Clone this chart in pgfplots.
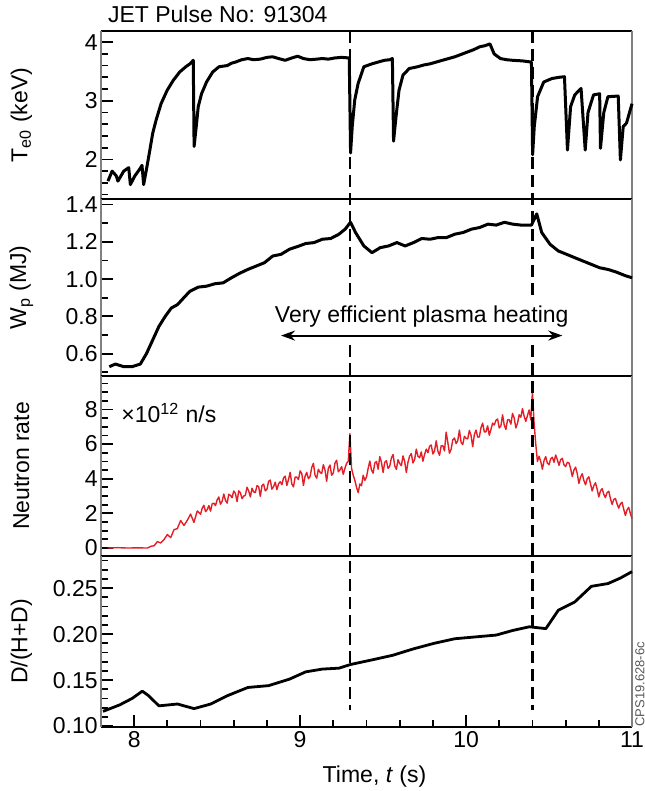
\documentclass[border=0pt]{standalone}
\usepackage{pgfplots}
\pgfplotsset{compat=1.18}
\usepackage{fontspec}
\setmainfont{Liberation Sans}
\usetikzlibrary{arrows.meta}
\definecolor{nred}{RGB}{228,30,38}
\newcommand{\lf}{\fontsize{11.5}{13}\selectfont}
\pgfplotsset{
 panel/.style={
  scale only axis, width=265.5pt,
  xmin=7.8, xmax=11,
  separate axis lines,
  x axis line style={black, line width=1.4pt},
  y axis line style={black!50, line width=0.8pt},
  tick align=inside, ytick pos=left, xtick pos=bottom,
  major tick length=6pt, minor tick length=3.5pt,
  tick style={black, line width=0.9pt},
  /pgf/number format/assume math mode=true,
  tick label style={font=\lf},
  label style={font=\lf},
  ylabel style={at={(axis description cs:-0.15,0.5)}, anchor=center},
  yticklabel style={inner xsep=1.5pt},
  clip=false,
 }
}
\begin{document}
\begin{tikzpicture}
\path[use as bounding box] (-50.5pt,-32pt) rectangle (271.7pt,363.5pt);
% Panel 1
\begin{axis}[panel, at={(0,264pt)}, anchor=south west, height=84pt,
  ymin=1.325, ymax=4.19, ytick={2,3,4},
  minor ytick={1.4,1.6,1.8,2.2,2.4,2.6,2.8,3.2,3.4,3.6,3.8},
  xtick=\empty, ylabel={T\textsubscript{e0} (keV)}]
\addplot[black, line width=1.5pt, line join=round] coordinates {
(7.842,1.63)(7.867,1.80)(7.892,1.72)(7.902,1.63)(7.937,1.80)(7.967,1.86)(7.977,1.57)(8.002,1.71)(8.037,1.85)(8.047,1.90)(8.057,1.57)(8.074,1.83)(8.092,2.12)(8.112,2.45)(8.132,2.67)(8.162,2.95)(8.199,3.18)(8.236,3.35)(8.274,3.49)(8.311,3.58)(8.336,3.63)(8.356,3.69)(8.361,2.22)(8.374,2.56)(8.386,2.90)(8.406,3.12)(8.436,3.32)(8.473,3.49)(8.511,3.58)(8.536,3.59)(8.561,3.60)(8.586,3.64)(8.611,3.66)(8.648,3.70)(8.685,3.72)(8.72,3.70)(8.760,3.71)(8.80,3.74)(8.835,3.75)(8.87,3.72)(8.910,3.69)(8.95,3.73)(8.985,3.76)(9.02,3.72)(9.059,3.70)(9.10,3.71)(9.134,3.72)(9.17,3.71)(9.209,3.73)(9.25,3.74)(9.296,3.73)(9.304,2.11)(9.314,2.56)(9.329,3.01)(9.349,3.29)(9.384,3.58)(9.433,3.63)(9.47,3.66)(9.508,3.69)(9.54,3.70)(9.556,3.72)(9.563,2.31)(9.578,2.73)(9.596,3.18)(9.620,3.44)(9.658,3.55)(9.708,3.58)(9.745,3.61)(9.783,3.63)(9.82,3.66)(9.857,3.69)(9.895,3.72)(9.932,3.75)(9.97,3.79)(10.007,3.83)(10.045,3.87)(10.082,3.92)(10.115,3.94)(10.144,3.97)(10.169,3.80)(10.207,3.72)(10.245,3.70)(10.281,3.69)(10.34,3.68)(10.394,3.66)(10.401,2.08)(10.411,2.56)(10.431,3.07)(10.468,3.32)(10.518,3.38)(10.56,3.40)(10.593,3.41)(10.611,2.16)(10.630,2.90)(10.655,3.10)(10.693,3.21)(10.718,2.16)(10.735,2.80)(10.768,3.10)(10.805,3.12)(10.810,2.19)(10.830,2.80)(10.855,3.07)(10.917,3.08)(10.930,1.99)(10.947,2.56)(10.967,2.62)(11.0,2.95)};
\node[anchor=base west, font=\lf, yshift=4.2pt] at (rel axis cs:0,1) {JET Pulse No: 91304};
\coordinate (d1top) at (axis cs:9.3,4.19);
\coordinate (d2top) at (axis cs:10.4,4.19);
\end{axis}
% Panel 2
\begin{axis}[panel, at={(0,175.5pt)}, anchor=south west, height=88.5pt,
  ymin=0.48, ymax=1.43, ytick={0.6,0.8,1.0,1.2,1.4},
  minor ytick={0.5,0.7,0.9,1.1,1.3},
  yticklabel style={/pgf/number format/.cd, fixed, fixed zerofill, precision=1},
  xtick=\empty, ylabel={W\textsubscript{p} (MJ)}]
\addplot[black, line width=1.5pt, line join=round] coordinates {
(7.850,0.53)(7.887,0.544)(7.937,0.53)(7.987,0.53)(8.037,0.544)(8.074,0.60)(8.112,0.674)(8.149,0.746)(8.187,0.80)(8.224,0.845)(8.261,0.863)(8.299,0.90)(8.336,0.935)(8.386,0.957)(8.436,0.962)(8.486,0.975)(8.536,0.98)(8.586,1.007)(8.635,1.031)(8.685,1.052)(8.735,1.07)(8.785,1.088)(8.835,1.124)(8.885,1.133)(8.935,1.16)(8.985,1.175)(9.034,1.191)(9.084,1.196)(9.134,1.214)(9.184,1.218)(9.234,1.241)(9.271,1.268)(9.304,1.305)(9.334,1.25)(9.384,1.178)(9.433,1.142)(9.483,1.169)(9.533,1.178)(9.583,1.196)(9.633,1.178)(9.683,1.196)(9.733,1.218)(9.783,1.214)(9.832,1.223)(9.882,1.223)(9.932,1.241)(9.982,1.250)(10.032,1.268)(10.082,1.277)(10.132,1.295)(10.182,1.29)(10.231,1.305)(10.281,1.295)(10.331,1.29)(10.394,1.29)(10.426,1.35)(10.456,1.25)(10.506,1.187)(10.556,1.151)(10.606,1.133)(10.655,1.115)(10.705,1.097)(10.755,1.079)(10.805,1.061)(10.855,1.052)(10.905,1.038)(10.955,1.02)(11.0,1.007)};
\draw[{Stealth[length=7pt,width=5pt]}-{Stealth[length=7pt,width=5pt]}, line width=1pt] (axis cs:8.885,0.697) -- (axis cs:10.58,0.697);
\node[font=\lf] at (axis cs:9.733,0.80) {Very efficient plasma heating};
\coordinate (d1g1) at (axis cs:9.3,0.89);
\coordinate (d1g2) at (axis cs:9.3,0.647);
\coordinate (d2g1) at (axis cs:10.4,0.89);
\coordinate (d2g2) at (axis cs:10.4,0.647);
\end{axis}
% Panel 3
\begin{axis}[panel, at={(0,85.5pt)}, anchor=south west, height=90pt,
  ymin=-0.46, ymax=9.93, ytick={0,2,4,6,8},
  minor ytick={0.5,1,1.5,2.5,3,3.5,4.5,5,5.5,6.5,7,7.5,8.5,9,9.5},
  xtick=\empty, ylabel={Neutron rate}]
\addplot[nred, line width=0.7pt, line join=round] coordinates {
(7.84,0)(7.90,0.02)(7.96,0)(8.02,0.01)(8.08,0)(8.10,0.1)(8.12,0.13)(8.14,0.37)(8.16,0.29)(8.18,0.49)(8.20,0.78)(8.22,0.60)(8.24,1.06)(8.26,1.12)(8.28,1.59)(8.30,1.30)(8.32,1.60)(8.34,1.96)(8.36,1.48)(8.38,2.14)
(8.40,1.95)(8.41,2.30)(8.42,2.47)(8.43,2.10)(8.44,2.21)(8.45,2.45)(8.46,2.13)(8.47,2.55)(8.48,2.59)(8.49,2.45)(8.50,2.78)(8.51,2.95)(8.52,2.53)(8.53,2.70)(8.54,3.12)(8.55,2.75)(8.56,2.59)(8.57,3.10)(8.58,3.04)(8.59,2.90)
(8.60,3.29)(8.61,3.15)(8.62,2.68)(8.63,3.30)(8.64,3.19)(8.65,2.85)(8.66,3.00)(8.67,3.05)(8.68,3.51)(8.69,3.30)(8.70,2.95)(8.71,3.45)(8.72,3.24)(8.73,3.20)(8.74,3.60)(8.75,3.55)(8.76,2.98)(8.77,3.60)(8.78,3.69)(8.79,3.30)
(8.80,3.39)(8.81,3.85)(8.82,3.92)(8.83,3.40)(8.84,3.54)(8.85,3.80)(8.86,3.37)(8.87,3.70)(8.88,3.83)(8.89,3.65)(8.90,4.05)(8.91,4.15)(8.92,3.61)(8.93,3.95)(8.94,4.37)(8.95,3.70)(8.96,3.53)(8.97,4.10)(8.98,4.09)(8.99,3.95)
(9.00,4.45)(9.01,4.30)(9.02,3.61)(9.03,4.15)(9.04,4.37)(9.05,4.00)(9.06,4.13)(9.07,4.65)(9.08,4.89)(9.09,4.20)(9.10,4.03)(9.11,4.55)(9.12,4.37)(9.13,4.30)(9.14,4.81)(9.15,4.50)(9.16,3.85)(9.17,4.60)(9.18,4.79)(9.19,4.20)
(9.20,4.33)(9.21,4.90)(9.22,5.07)(9.23,4.40)(9.24,4.51)(9.25,4.70)(9.26,4.25)(9.27,4.60)(9.28,4.89)(9.29,5.0)(9.30,6.6)(9.31,4.6)(9.32,4.2)(9.33,3.9)(9.34,3.5)(9.35,3.2)(9.36,3.7)(9.37,3.6)(9.38,4.2)(9.39,3.9)
(9.40,4.1)(9.41,4.60)(9.42,5.02)(9.43,4.50)(9.44,4.32)(9.45,4.90)(9.46,5.0)(9.47,4.55)(9.48,5.28)(9.49,4.95)(9.50,4.36)(9.51,4.95)(9.52,5.04)(9.53,4.60)(9.54,4.72)(9.55,5.20)(9.56,5.40)(9.57,4.75)(9.58,4.54)(9.59,5.10)
(9.60,4.88)(9.61,4.75)(9.62,5.32)(9.63,5.00)(9.64,4.36)(9.65,4.95)(9.66,5.31)(9.67,5.45)(9.68,4.91)(9.69,5.10)(9.70,5.71)(9.71,5.30)(9.72,5.21)(9.73,5.55)(9.74,5.01)(9.75,5.40)(9.76,5.71)(9.77,5.50)(9.78,5.87)(9.79,5.95)
(9.80,5.43)(9.81,5.60)(9.82,6.19)(9.83,5.60)(9.84,5.35)(9.85,5.90)(9.86,5.91)(9.87,5.60)(9.88,6.69)(9.89,6.10)(9.90,5.47)(9.91,5.70)(9.92,6.25)(9.93,6.35)(9.94,6.03)(9.95,6.20)(9.96,6.81)(9.97,6.10)(9.98,5.97)(9.99,6.45)
(10.00,6.33)(10.01,6.30)(10.02,6.79)(10.03,6.50)(10.04,5.85)(10.05,6.55)(10.06,6.81)(10.07,6.40)(10.08,6.41)(10.09,6.95)(10.10,7.21)(10.11,6.70)(10.12,6.71)(10.13,7.05)(10.14,6.51)(10.15,6.85)(10.16,7.21)(10.17,7.10)(10.18,7.37)(10.19,7.45)
(10.20,6.93)(10.21,7.05)(10.22,7.69)(10.23,7.10)(10.24,6.85)(10.25,7.40)(10.26,7.41)(10.27,7.15)(10.28,7.77)(10.29,7.50)(10.30,6.93)(10.31,7.20)(10.32,7.69)(10.33,7.55)(10.34,8.05)(10.35,7.60)(10.36,7.31)(10.37,7.65)(10.38,7.97)(10.39,7.4)
(10.40,9.0)(10.41,7.2)(10.42,6.0)(10.43,5.0)(10.44,5.3)(10.45,5.00)(10.46,4.55)(10.47,5.05)(10.48,5.28)(10.49,4.90)(10.50,4.81)(10.51,5.15)(10.52,5.24)(10.53,4.95)(10.54,5.37)(10.55,5.10)(10.56,4.77)(10.57,5.10)(10.58,5.18)(10.59,4.80)
(10.60,4.70)(10.61,4.95)(10.62,4.91)(10.63,4.60)(10.64,4.13)(10.65,4.50)(10.66,4.67)(10.67,4.30)(10.68,3.73)(10.69,4.10)(10.70,4.29)(10.71,3.90)(10.72,3.65)(10.73,4.00)(10.74,4.11)(10.75,3.70)(10.76,3.29)(10.77,3.60)(10.78,3.77)(10.79,3.40)
(10.80,2.95)(10.81,3.30)(10.82,3.43)(10.83,3.10)(10.84,2.91)(10.85,3.20)(10.86,3.28)(10.87,2.85)(10.88,2.52)(10.89,2.80)(10.90,2.86)(10.91,2.55)(10.92,2.30)(10.93,2.55)(10.94,2.64)(10.95,2.25)(10.96,1.88)(10.97,2.20)(10.98,2.35)(10.99,2.00)(11.00,1.7)};
\node[anchor=west, font=\lf] at (axis cs:7.88,7.8) {×10\textsuperscript{12} n/s};
\end{axis}
% Panel 4
\begin{axis}[panel, at={(0,0)}, anchor=south west, height=85.5pt,
  ymin=0.099, ymax=0.285, ytick={0.10,0.15,0.20,0.25},
  minor ytick={0.11,0.12,0.13,0.14,0.16,0.17,0.18,0.19,0.21,0.22,0.23,0.24,0.26,0.27,0.28},
  yticklabel style={/pgf/number format/.cd, fixed, fixed zerofill, precision=2},
  xtick={8,9,10,11},
  minor xtick={8.2,8.4,8.6,8.8,9.2,9.4,9.6,9.8,10.2,10.4,10.6,10.8},
  xticklabel style={inner ysep=2pt},
  ylabel={D/(H+D)},
  xlabel={Time, \textit{t} (s)},
  xlabel style={at={(axis description cs:0.515,-0.29)}, anchor=center}]
\addplot[black, line width=1.4pt, line join=round] coordinates {
(7.812,0.116)(7.912,0.123)(7.987,0.130)(8.049,0.138)(8.087,0.133)(8.149,0.122)(8.261,0.124)(8.361,0.119)(8.461,0.124)(8.561,0.133)(8.685,0.142)(8.810,0.144)(8.935,0.151)(9.034,0.159)(9.134,0.162)(9.234,0.163)(9.304,0.167)(9.433,0.172)(9.558,0.177)(9.683,0.184)(9.807,0.190)(9.932,0.195)(10.057,0.197)(10.182,0.199)(10.281,0.204)(10.381,0.208)(10.481,0.206)(10.556,0.226)(10.655,0.235)(10.755,0.252)(10.855,0.255)(10.930,0.261)(11.0,0.268)};
\node[rotate=90, anchor=west, inner sep=0pt, font=\fontsize{6.5}{7}\selectfont, text=black!65] at ([xshift=3.9pt]rel axis cs:1,0) {CPS19.628-6c};
\coordinate (d1bot) at (axis cs:9.3,0.117);
\coordinate (d2bot) at (axis cs:10.4,0.117);
\end{axis}
\draw[black, line width=1.1pt, dash pattern=on 6pt off 3pt] (d1top) -- (d1g1) (d1g2) -- (d1bot);
\draw[black, line width=1.1pt, dash pattern=on 6pt off 3pt] (d2top) -- (d2g1) (d2g2) -- (d2bot);
\end{tikzpicture}
\end{document}
